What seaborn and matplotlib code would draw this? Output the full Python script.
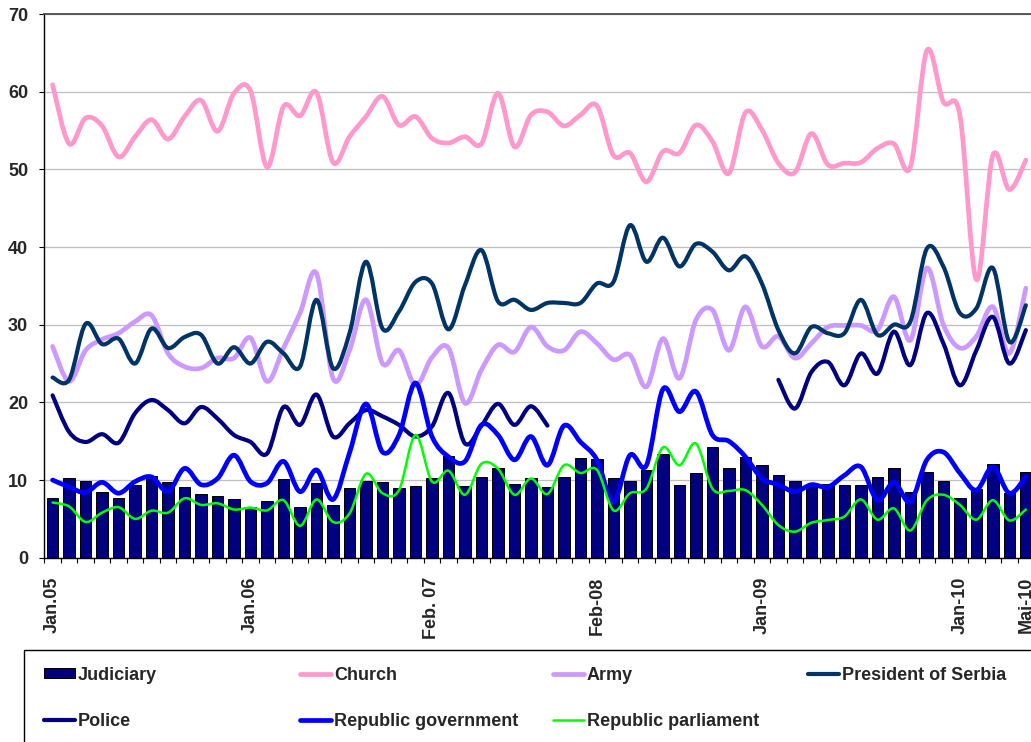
import numpy as np
import pandas as pd
import matplotlib
matplotlib.use('Agg')
import matplotlib.pyplot as plt
import seaborn as sns
from matplotlib.path import Path
from matplotlib.patches import PathPatch, Patch, Rectangle
from matplotlib.lines import Line2D

# Survey waves (60 of them), only some carry a label on the axis
tick_labels = {0: 'Jan.05', 12: 'Jan.06', 23: 'Feb. 07', 33: 'Feb-08',
               43: 'Jan-09', 55: 'Jan-10', 59: 'Mai-10'}

judiciary = [7.7, 10.3, 9.9, 8.4, 7.7, 9.4, 10.5, 9.8, 9.1, 8.2, 7.95, 7.5, 6.5,
             7.3, 10.1, 6.5, 9.6, 6.8, 9.0, 9.9, 9.7, 9.0, 9.2, 10.3, 13.1, 9.2, 10.4, 11.6,
             9.5, 10.3, 9.1, 10.4, 12.8, 12.7, 10.2, 9.9, 11.3, 13.3, 9.4, 10.9, 14.25, 11.6, 13.0,
             11.9, 10.6, 9.9, 9.45, 9.45, 9.4, 9.3, 10.4, 11.5, 8.5, 11.0, 9.9, 7.7, 8.9, 12.1, 8.3, 11.0]

church = [60.9, 53.3, 56.6, 55.6, 51.6, 54.2, 56.4, 53.9, 56.8, 58.9, 54.9, 59.8, 60.1,
          50.3, 58.1, 56.9, 59.9, 50.9, 54.2, 56.8, 59.4, 55.7, 56.8, 54.0, 53.4, 54.2, 53.3, 59.8,
          52.9, 57.0, 57.4, 55.6, 57.0, 58.2, 51.8, 52.1, 48.4, 52.3, 52.1, 55.7, 53.6, 49.5, 57.3,
          55.1, 50.8, 49.6, 54.6, 50.6, 50.8, 50.9, 52.7, 53.3, 50.3, 65.3, 58.7, 57.0, 35.8, 51.8, 47.4, 51.2]

army = [27.2, 22.7, 26.7, 28.1, 28.9, 30.4, 31.2, 26.3, 24.6, 24.4, 25.7, 25.7, 28.3,
        22.7, 27.0, 31.5, 36.6, 23.1, 26.7, 33.2, 25.0, 26.7, 22.2, 25.8, 27.0, 19.9, 24.2, 27.4,
        26.5, 29.7, 27.2, 26.7, 29.1, 27.6, 25.5, 26.1, 22.0, 28.2, 23.1, 30.6, 31.9, 26.7, 32.3,
        27.2, 28.5, 25.7, 27.6, 29.7, 29.9, 29.9, 29.3, 33.6, 28.0, 37.3, 30.0, 27.0, 28.5, 32.3, 26.3, 34.7]

president = [23.2, 22.9, 30.1, 27.5, 28.2, 25.0, 29.5, 27.0, 28.4, 28.7, 25.0, 27.1, 25.0,
             27.8, 26.3, 24.6, 33.2, 24.4, 28.9, 38.1, 29.5, 31.7, 35.5, 35.3, 29.4, 35.1, 39.6, 33.0,
             33.2, 31.9, 32.8, 32.8, 32.8, 35.3, 35.5, 42.8, 38.1, 41.2, 37.5, 40.4, 39.4, 37.0, 38.8,
             35.3, 29.3, 26.3, 29.7, 28.9, 28.9, 33.2, 28.7, 30.0, 30.4, 39.8, 37.5, 31.5, 32.1, 37.3, 27.8, 32.5]

nan = np.nan
police = [20.9, 16.2, 14.9, 15.9, 14.8, 18.6, 20.3, 19.0, 17.3, 19.4, 17.9, 15.8, 14.9,
          13.4, 19.4, 17.1, 21.0, 15.6, 17.3, 19.0, 18.2, 17.1, 15.6, 16.9, 21.2, 14.7, 17.0, 19.8,
          17.1, 19.5, 17.0, nan, nan, nan, nan, nan, nan, nan, nan, nan, nan, nan, nan,
          nan, 22.9, 19.2, 23.9, 25.2, 22.2, 26.3, 23.7, 29.1, 24.8, 31.5, 27.6, 22.2, 26.7, 31.0, 25.0, 29.3]

government = [10.0, 9.1, 8.4, 9.7, 8.3, 9.8, 10.4, 8.5, 11.5, 9.4, 10.2, 13.2, 9.8,
              9.6, 12.4, 8.5, 11.3, 7.5, 13.5, 19.8, 13.6, 15.8, 22.5, 15.6, 13.0, 12.4, 17.1, 15.8,
              12.6, 15.6, 11.9, 17.0, 14.9, 12.6, 7.2, 13.2, 11.9, 21.7, 18.8, 21.4, 15.8, 15.0, 13.0,
              10.2, 9.4, 8.5, 9.4, 9.1, 10.6, 11.7, 7.4, 9.7, 7.2, 12.6, 13.6, 10.9, 8.7, 11.7, 8.3, 10.4]

parliament = [7.1, 6.6, 4.6, 5.8, 6.5, 5.0, 6.05, 5.8, 7.65, 6.8, 7.0, 6.2, 6.45,
              6.1, 7.4, 4.1, 7.5, 4.6, 5.7, 10.8, 8.3, 8.7, 15.8, 9.8, 11.2, 8.1, 12.1, 11.45,
              8.1, 10.2, 8.2, 11.9, 10.9, 11.3, 6.1, 8.3, 8.9, 14.2, 11.9, 14.7, 8.9, 8.6, 8.7,
              6.8, 4.2, 3.35, 4.5, 4.85, 5.3, 7.5, 4.9, 6.35, 3.5, 7.4, 8.1, 6.8, 4.9, 7.4, 4.8, 6.2]

n = len(judiciary)
wave = np.arange(n)

sns.set_theme(style='white')
plt.rcParams['font.family'] = ['Liberation Sans', 'DejaVu Sans']
plt.rcParams['font.weight'] = 'bold'

fig = plt.figure(figsize=(10.31, 7.42), dpi=100)
ax = fig.add_axes([0.0430, 0.2484, 0.9600, 0.7327])

# bars
df = pd.DataFrame({'wave': wave, 'Judiciary': judiciary})
sns.barplot(data=df, x='wave', y='Judiciary', color='#000080', saturation=1,
            edgecolor='black', linewidth=0.7, width=0.69, errorbar=None, ax=ax, zorder=2)


def smooth_line(ax, xs, ys, color, lw):
    # Excel-like smoothed line: cubic bezier through the points
    xs = np.asarray(xs, float)
    ys = np.asarray(ys, float)
    ok = ~np.isnan(ys)
    verts, codes = [], []
    i = 0
    while i < len(ys):
        if not ok[i]:
            i += 1
            continue
        j = i
        while j < len(ys) and ok[j]:
            j += 1
        p = np.column_stack([xs[i:j], ys[i:j]])
        m = len(p)
        verts.append(p[0]); codes.append(Path.MOVETO)
        for k in range(m - 1):
            a = p[k - 1] if k > 0 else p[k]
            d = p[k + 2] if k + 2 < m else p[k + 1]
            c1 = p[k] + (p[k + 1] - a) / 6
            c2 = p[k + 1] - (d - p[k]) / 6
            verts += [c1, c2, p[k + 1]]
            codes += [Path.CURVE4] * 3
        i = j
    patch = PathPatch(Path(verts, codes), facecolor='none', edgecolor=color, lw=lw,
                      capstyle='round', joinstyle='round', zorder=3)
    ax.add_patch(patch)


series = [
    ('Church', church, '#FF99CC', 3.4),
    ('Army', army, '#CC99FF', 3.4),
    ('President of Serbia', president, '#003366', 3.0),
    ('Police', police, '#000080', 3.0),
    ('Republic government', government, '#0000FF', 3.4),
    ('Republic parliament', parliament, '#00FF00', 1.8),
]
for name, vals, col, lw in series:
    smooth_line(ax, wave, vals, col, lw)

ax.set_xlim(-0.5, n - 0.5)
ax.set_ylim(0, 70)
ax.set_yticks(range(0, 71, 10))
ax.yaxis.grid(True, color='#BFBFBF', lw=0.9)
ax.xaxis.grid(False)
ax.set_axisbelow(True)
ax.set_xlabel('')
ax.set_ylabel('')

ax.set_xticks(wave)
ax.set_xticklabels([tick_labels.get(i, '') for i in wave], rotation=90,
                   fontsize=13, fontweight='bold')
ax.set_xticks(np.arange(-0.5, n, 1.0), minor=True)
ax.tick_params(axis='x', which='major', length=0, pad=13.5)
ax.tick_params(axis='x', which='minor', length=3.6, width=0.8, color='black', direction='out')
ax.tick_params(axis='y', length=3.6, width=0.8, color='black', direction='out', pad=8,
               labelsize=13)
for t in ax.get_yticklabels():
    t.set_fontweight('bold')
ax.tick_params(bottom=True, left=True, which='both')

for s in ['left', 'bottom']:
    ax.spines[s].set_color('black')
    ax.spines[s].set_linewidth(1.0)
ax.spines['top'].set_color('#404040')
ax.spines['top'].set_linewidth(1.2)
ax.spines['right'].set_visible(False)

# legend box
fig.add_artist(Rectangle((24 / 1031, -0.2), 1.2, 0.2 + 1 - 650 / 742,
                         transform=fig.transFigure, fill=False, edgecolor='black', lw=1.0))

entries = [
    ('Judiciary', Patch(facecolor='#000080', edgecolor='black', lw=0.7), 44, 675),
    ('Church', Line2D([], [], color='#FF99CC', lw=3.4), 300, 675),
    ('Army', Line2D([], [], color='#CC99FF', lw=3.4), 553, 675),
    ('President of Serbia', Line2D([], [], color='#003366', lw=3.0), 808, 675),
    ('Police', Line2D([], [], color='#000080', lw=3.0), 44, 721.5),
    ('Republic government', Line2D([], [], color='#0000FF', lw=3.4), 300, 721.5),
    ('Republic parliament', Line2D([], [], color='#00FF00', lw=1.8), 553, 721.5),
]
for label, handle, px, py in entries:
    fig.legend([handle], [label], loc='center left',
               bbox_to_anchor=(px / 1031, 1 - py / 742), frameon=False,
               borderpad=0, borderaxespad=0, handlelength=1.72, handleheight=0.5,
               handletextpad=0.15, prop={'size': 13, 'weight': 'bold'})

fig.savefig('out.png', dpi=100)
